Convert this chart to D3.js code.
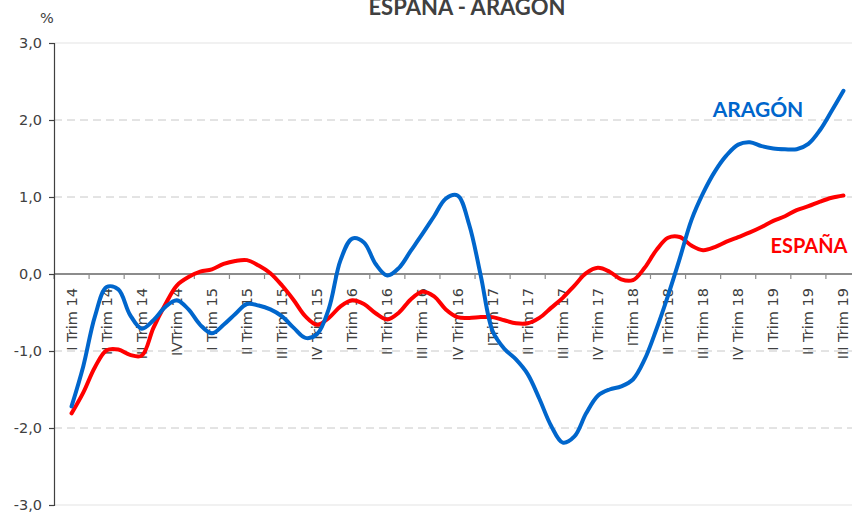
<!DOCTYPE html>
<html>
<head>
<meta charset="utf-8">
<script src="https://cdn.jsdelivr.net/npm/d3@7"></script>
<style>
  html, body { margin: 0; padding: 0; background: #fff; }
  svg { display: block; }
</style>
</head>
<body>
<svg id="chart" width="852" height="516"></svg>
<script>
// ---- data ----
const categories = [
  "I Trim 14", "II Trim 14", "III Trim 14", "IVTrim 14",
  "I Trim 15", "II Trim 15", "III Trim 15", "IV Trim 15",
  "I Trim 16", "II Trim 16", "III Trim 16", "IV Trim 16",
  "ITrim 17", "II Trim 17", "III Trim 17", "IV Trim 17",
  "ITrim 18", "II Trim 18", "III Trim 18", "IV Trim 18",
  "I Trim 19", "II Trim 19", "III Trim 19"
];
// monthly samples (3 per quarter), first at I Trim 14, last at III Trim 19
const aragon = [
  -1.72, -1.20, -0.55, -0.17, -0.20, -0.53, -0.71, -0.60, -0.43, -0.34,
  -0.46, -0.66, -0.77, -0.66, -0.52, -0.39, -0.41, -0.46, -0.55, -0.70,
  -0.83, -0.78, -0.45, 0.18, 0.46, 0.41, 0.13, -0.02, 0.08, 0.30,
  0.52, 0.75, 0.98, 1.02, 0.64, -0.03, -0.74, -0.97, -1.11, -1.30,
  -1.62, -1.97, -2.19, -2.11, -1.81, -1.58, -1.50, -1.46, -1.37, -1.11,
  -0.72, -0.28, 0.20, 0.70, 1.05, 1.33, 1.54, 1.68, 1.71, 1.66,
  1.63, 1.62, 1.62, 1.69, 1.87, 2.12, 2.38
];
const espana = [
  -1.81, -1.54, -1.21, -0.99, -0.98, -1.05, -1.06, -0.70, -0.40, -0.15,
  -0.04, 0.03, 0.06, 0.13, 0.17, 0.18, 0.11, 0.01, -0.15, -0.34,
  -0.55, -0.66, -0.57, -0.42, -0.34, -0.39, -0.51, -0.59, -0.50, -0.33,
  -0.23, -0.29, -0.46, -0.56, -0.57, -0.56, -0.56, -0.60, -0.64, -0.64,
  -0.57, -0.44, -0.31, -0.15, 0.01, 0.08, 0.03, -0.07, -0.08, 0.08,
  0.31, 0.47, 0.48, 0.37, 0.31, 0.35, 0.42, 0.48, 0.54, 0.61,
  0.69, 0.75, 0.83, 0.88, 0.94, 0.99, 1.02
];
const yTicks = [-3, -2, -1, 0, 1, 2, 3];
const yTickLabels = ["-3,0", "-2,0", "-1,0", "0,0", "1,0", "2,0", "3,0"];
const title = "ESPAÑA - ARAGÓN";
const seriesNames = ["ARAGÓN", "ESPAÑA"];

// ---- layout ----
const svg = d3.select("#chart");
const mLeft = 54, mRight = 861, mTop = 43, mBottom = 505;
const textColor = "#404040";
const axisFont = "'DejaVu Sans', Verdana, sans-serif";
const boldFont = "Lato, 'Open Sans', sans-serif";

const x = d3.scaleBand().domain(categories).range([mLeft, mRight]).padding(0);
const xq = d3.scaleLinear().domain([-0.5, categories.length - 0.5]).range([mLeft, mRight]);
const y = d3.scaleLinear().domain([-3, 3]).range([mBottom, mTop]);

// gridlines
svg.append("g").selectAll("line")
  .data(yTicks.filter(v => v !== 0))
  .join("line")
  .attr("x1", mLeft).attr("x2", 852)
  .attr("y1", d => y(d)).attr("y2", d => y(d))
  .attr("stroke", d => Math.abs(d) === 3 ? "#ececec" : "#c8c8c8")
  .attr("stroke-width", d => Math.abs(d) === 3 ? 1.5 : 1)
  .attr("stroke-dasharray", d => Math.abs(d) === 3 ? null : "8,5");

// zero line with ticks and category labels
const gx = svg.append("g").attr("transform", `translate(0,${y(0)})`);
gx.append("line")
  .attr("x1", mLeft).attr("x2", 852).attr("y1", 0).attr("y2", 0)
  .attr("stroke", "#8c8c8c").attr("stroke-width", 2);
gx.selectAll("line.tk")
  .data(categories)
  .join("line").attr("class", "tk")
  .attr("x1", d => x(d)).attr("x2", d => x(d))
  .attr("y1", 0).attr("y2", 5)
  .attr("stroke", "#8c8c8c").attr("stroke-width", 1.2);
gx.selectAll("text")
  .data(categories)
  .join("text")
  .attr("transform", d => `translate(${x(d) + x.bandwidth() / 2 + 5},${14}) rotate(-90)`)
  .attr("text-anchor", "end")
  .attr("font-family", axisFont)
  .attr("font-size", "14.5px")
  .attr("fill", textColor)
  .text(d => d);

// y axis
const yAxis = d3.axisLeft(y).tickValues(yTicks)
  .tickFormat((d, i) => yTickLabels[i]).tickSize(5).tickPadding(7);
const gy = svg.append("g").attr("transform", `translate(${mLeft},0)`).call(yAxis);
gy.select(".domain").attr("stroke", "#404040").attr("stroke-width", 1.2);
gy.selectAll(".tick line").attr("stroke", "#404040").attr("stroke-width", 1.2);
gy.selectAll(".tick text")
  .attr("font-family", axisFont)
  .attr("font-size", "14.5px")
  .attr("fill", textColor);

// % label
svg.append("text")
  .attr("x", 47).attr("y", 23)
  .attr("text-anchor", "middle")
  .attr("font-family", axisFont)
  .attr("font-size", "14.5px")
  .attr("fill", textColor)
  .text("%");

// title
svg.append("text")
  .attr("x", 467).attr("y", 15)
  .attr("text-anchor", "middle")
  .attr("font-family", boldFont)
  .attr("font-weight", "bold")
  .attr("font-size", "22px")
  .attr("fill", textColor)
  .text(title);

// lines
const line = d3.line()
  .x((d, i) => xq(i / 3))
  .y(d => y(d))
  .curve(d3.curveCatmullRom.alpha(0.5));

svg.append("path").datum(espana)
  .attr("d", line)
  .attr("fill", "none")
  .attr("stroke", "#ff0000")
  .attr("stroke-width", 4)
  .attr("stroke-linejoin", "round")
  .attr("stroke-linecap", "round");

svg.append("path").datum(aragon)
  .attr("d", line)
  .attr("fill", "none")
  .attr("stroke", "#0066cc")
  .attr("stroke-width", 4)
  .attr("stroke-linejoin", "round")
  .attr("stroke-linecap", "round");

// series labels
svg.append("text")
  .attr("x", 758).attr("y", 117)
  .attr("text-anchor", "middle")
  .attr("font-family", boldFont)
  .attr("font-weight", "bold")
  .attr("font-size", "21px")
  .attr("fill", "#0066cc")
  .text(seriesNames[0]);

svg.append("text")
  .attr("x", 809).attr("y", 253)
  .attr("text-anchor", "middle")
  .attr("font-family", boldFont)
  .attr("font-weight", "bold")
  .attr("font-size", "20px")
  .attr("fill", "#ff0000")
  .text(seriesNames[1]);
</script>
</body>
</html>
